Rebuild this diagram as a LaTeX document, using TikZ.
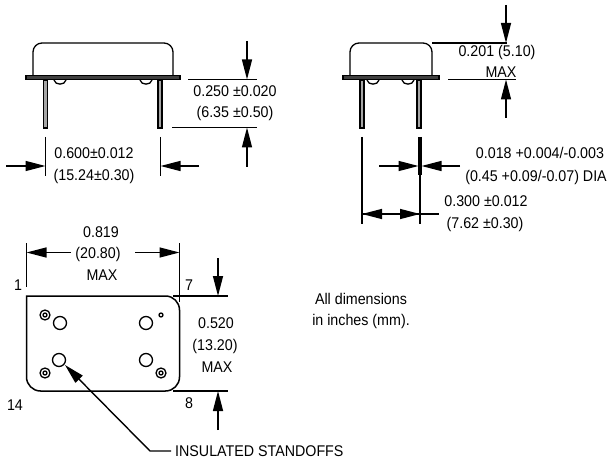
\documentclass[tikz,border=0pt]{standalone}
\usepackage{fontspec}
\setmainfont[FakeStretch=0.92]{Liberation Sans}
\usetikzlibrary{arrows.meta}
\tikzset{
	dim/.style={-{Triangle[length=20pt,width=10pt]},line width=1.4pt},
	ext/.style={line width=1.4pt},
	part/.style={line width=1.3pt},
	lab/.style={inner sep=0pt,font=\fontsize{15.5}{16}\selectfont}
}
\begin{document}
\begin{tikzpicture}[x=1pt,y=-1pt]
	\useasboundingbox (0,0) rectangle (607,462);
	% side views
	\foreach \o/\a/\b/\c/\d/\p/\q/\u/\v in {0/33/173/26/180/45.5/160/60/146,1/350/432/343/439/362/419/373/408}{
		\draw[part] (\a,75) -- (\a,52) arc[start angle=180,end angle=270,radius=9] -- (\b-9,43) arc[start angle=270,end angle=360,radius=9] -- (\b,75);
		\draw[part] (\u-6,80) .. controls (\u-5,85.5) and (\u+5,85.5) .. (\u+6,80);
		\draw[part] (\v-6,80) .. controls (\v-5,85.5) and (\v+5,85.5) .. (\v+6,80);
		\draw[part,fill=black!35] (\p-2,80) rectangle (\p+2,128);
		\draw[part,fill=black!35] (\q-2,80) rectangle (\q+2,128);
		\draw[part,fill=black!75] (\c,75.5) rectangle (\d,79.5);
	}
	% left view
	\draw[ext] (188,79.5) -- (257,79.5);
	\draw[ext] (172,127.5) -- (257,127.5);
	\draw[dim] (247,41) -- (247,79.5);
	\draw[dim] (247,167) -- (247,127.5);
	\draw[ext] (45.5,137) -- (45.5,176);
	\draw[ext] (160.5,137) -- (160.5,176);
	\draw[dim] (6,166) -- (45.5,166);
	\draw[dim] (199,166) -- (160.5,166);
	\node[name=ha,lab]at(235,91){0.250 ±0.020};
	\node[name=hb,lab]at(235,113){(6.35 ±0.50)};
	\node[name=wa,lab]at(94,153){0.600±0.012};
	\node[name=wb,lab]at(94,176){(15.24±0.30)};
	% right view
	\draw[ext] (432,43) -- (507,43);
	\draw[ext] (448,79.5) -- (516,79.5);
	\draw[dim] (506,5) -- (506,43);
	\draw[dim] (506,118) -- (506,79.5);
	\draw[ext] (362,137) -- (362,224);
	\draw[line width=4pt] (420,137) -- (420,175);
	\draw[ext] (420,175) -- (420,224);
	\draw[dim] (379,166) -- (418.5,166);
	\draw[dim] (460,166) -- (421.5,166);
	\draw[dim] (382,214) -- (362,214);
	\draw[dim] (400,214) -- (420,214);
	\draw[ext] (362,214) -- (439,214);
	\node[name=ma,lab]at(497,52){0.201 (5.10)};
	\node[name=mb,lab]at(501,72){MAX};
	\node[name=da,lab]at(540,153){0.018 +0.004/-0.003};
	\node[name=db,lab]at(536,177){(0.45 +0.09/-0.07) DIA};
	\node[name=pa,lab]at(486,201){0.300 ±0.012};
	\node[name=pb,lab]at(485,224){(7.62 ±0.30)};
	% bottom view
	\draw[line width=1.5pt] (26.5,296) -- (165.5,296) arc[start angle=270,end angle=360,radius=14] -- (179.5,377) arc[start angle=0,end angle=90,radius=14] -- (40.5,391) arc[start angle=90,end angle=180,radius=14] -- cycle;
	\foreach \x/\y in {60/323,146/323,59/360,146/360}
	\draw[part] (\x,\y) circle[radius=6.5];
	\foreach \x/\y in {45/315,45/373,161/373}{
		\draw[part] (\x,\y) circle[radius=5];
		\draw[part] (\x,\y) circle[radius=2];
	}
	\draw[part] (161,315) circle[radius=2];
	\draw[ext] (26.5,243) -- (26.5,287);
	\draw[ext] (179.5,243) -- (179.5,302);
	\draw[ext] (173,296) -- (228,296);
	\draw[ext] (173,391) -- (228,391);
	\draw[dim] (71,252.5) -- (26.5,252.5);
	\draw[dim] (135,252.5) -- (179.5,252.5);
	\draw[dim] (218,258) -- (218,296);
	\draw[dim] (218,430) -- (218,391);
	\node[name=la,lab]at(101,232){0.819};
	\node[name=lb,lab]at(98,254){(20.80)};
	\node[name=lc,lab]at(102,275){MAX};
	\node[name=sa,lab]at(216,323){0.520};
	\node[name=sb,lab]at(215,346){(13.20)};
	\node[name=sc,lab]at(217,367){MAX};
	\node[name=one,lab]at(18,285){1};
	\node[name=seven,lab]at(189,285){7};
	\node[name=fourteen,lab]at(15,405){14};
	\node[name=eight,lab]at(189,403){8};
	\node[name=ins,lab,anchor=west]at(175,451){INSULATED STANDOFFS};
	\coordinate (hole) at (65,365);
	\draw[dim] (ins.west) ++(-4,0) -- (150,451) -- (hole);
	\node[name=na,lab]at(361,299){All dimensions};
	\node[name=nb,lab]at(361,321){in inches (mm).};
\end{tikzpicture}
\end{document}
